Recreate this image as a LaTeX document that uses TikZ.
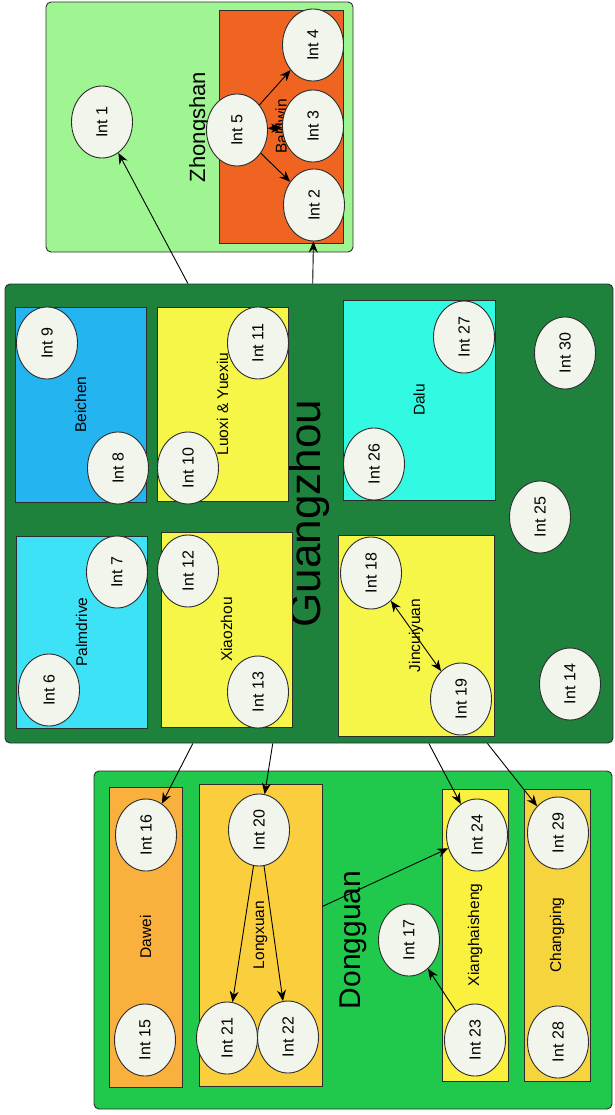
\documentclass[tikz,border=0pt]{standalone}
\usepackage{fontspec}
\setmainfont{Liberation Sans}
\usetikzlibrary{arrows.meta, positioning, shapes.geometric}
\definecolor{zhongshanbg}{RGB}{158,245,145}
\definecolor{baldwinbg}{RGB}{238,100,32}
\definecolor{guangzhoubg}{RGB}{30,130,60}
\definecolor{dongguanbg}{RGB}{32,200,76}
\definecolor{beichenbg}{RGB}{36,180,240}
\definecolor{palmbg}{RGB}{62,226,246}
\definecolor{dalubg}{RGB}{50,250,226}
\definecolor{yellowbg}{RGB}{246,246,72}
\definecolor{daweibg}{RGB}{250,176,60}
\definecolor{longxuanbg}{RGB}{250,206,60}
\definecolor{xiangbg}{RGB}{250,240,62}
\definecolor{changbg}{RGB}{246,212,62}
\definecolor{intbg}{RGB}{241,245,236}
\definecolor{edgegray}{RGB}{45,45,45}
\newcommand{\fsz}[1]{\fontsize{#1}{#1}\selectfont}
\tikzset{
    region/.style={rectangle, rounded corners=5pt, draw=edgegray, line width=0.9pt,
        rotate=90, inner sep=0pt},
    district/.style={rectangle, draw=edgegray, line width=0.9pt, rotate=90,
        inner sep=0pt, font=\fsz{15.5}},
    inter/.style={ellipse, draw=edgegray, line width=0.9pt, fill=intbg, rotate=90,
        minimum width=72pt, minimum height=61pt, inner sep=0pt, font=\fsz{16}},
    link/.style={-{Stealth[length=11pt, width=9pt]}, line width=0.9pt, black},
    duallink/.style={{Stealth[length=11pt, width=9pt]}-{Stealth[length=11pt, width=9pt]},
        line width=0.9pt, black},
}

\begin{document}
\begin{tikzpicture}[x=1pt, y=-1pt]
    \useasboundingbox (0,0) rectangle (614,1115);

    % ---- Regions ----
    \node[region, fill=zhongshanbg, minimum width=250pt, minimum height=307pt, font=\fsz{22}] (zhongshan) at (199.5,127) {Zhongshan};
    \node[region, fill=guangzhoubg, minimum width=459pt, minimum height=608pt, font=\fsz{44}] (guangzhou) at (309,513.5) {Guangzhou};
    \node[region, fill=dongguanbg, minimum width=338pt, minimum height=518pt, font=\fsz{30}] (dongguan) at (353,940) {Dongguan};

    % ---- Zhongshan districts ----
    \node[district, fill=baldwinbg, minimum width=233pt, minimum height=124pt] (baldwin) at (281,126.5) {Baldwin};

    % ---- Guangzhou districts ----
    \node[district, fill=beichenbg, minimum width=195pt, minimum height=131pt] (beichen) at (80.5,404.5) {Beichen};
    \node[district, fill=yellowbg, minimum width=194pt, minimum height=131pt] (luoxi) at (222.5,404) {Luoxi \& Yuexiu};
    \node[district, fill=dalubg, minimum width=200pt, minimum height=152pt] (dalu) at (419,400) {Dalu};
    \node[district, fill=palmbg, minimum width=192pt, minimum height=131pt] (palmdrive) at (81.5,632) {Palmdrive};
    \node[district, fill=yellowbg, minimum width=195pt, minimum height=131pt] (xiaozhou) at (226.5,629.5) {Xiaozhou};
    \node[district, fill=yellowbg, minimum width=201pt, minimum height=156pt] (jincuiyuan) at (416,635.5) {Jincuiyuan};

    % ---- Dongguan districts ----
    \node[district, fill=daweibg, minimum width=300pt, minimum height=73pt] (dawei) at (145.5,937) {Dawei};
    \node[district, fill=longxuanbg, minimum width=302pt, minimum height=123pt] (longxuan) at (260.5,935) {Longxuan};
    \node[district, fill=xiangbg, minimum width=292pt, minimum height=66pt] (xianghaisheng) at (475,935) {Xianghaisheng};
    \node[district, fill=changbg, minimum width=292pt, minimum height=66pt] (changping) at (557,935) {Changping};

    % ---- Intersections: Zhongshan ----
    \node[inter] (int1) at (102,122) {Int 1};
    \node[inter] (int2) at (314,205) {Int 2};
    \node[inter] (int3) at (313,126) {Int 3};
    \node[inter] (int4) at (313,45) {Int 4};
    \node[inter] (int5) at (237,130) {Int 5};

    % ---- Intersections: Guangzhou ----
    \node[inter] (int9) at (47,343) {Int 9};
    \node[inter] (int8) at (118,468) {Int 8};
    \node[inter] (int10) at (188,468) {Int 10};
    \node[inter] (int11) at (258,343) {Int 11};
    \node[inter] (int7) at (117,572) {Int 7};
    \node[inter] (int6) at (49,690) {Int 6};
    \node[inter] (int12) at (188,571) {Int 12};
    \node[inter] (int13) at (258,692) {Int 13};
    \node[inter] (int18) at (371,573) {Int 18};
    \node[inter] (int19) at (461,699) {Int 19};
    \node[inter] (int26) at (374,464) {Int 26};
    \node[inter] (int27) at (464,337) {Int 27};
    \node[inter] (int30) at (565,353) {Int 30};
    \node[inter] (int25) at (540,517) {Int 25};
    \node[inter] (int14) at (570,684) {Int 14};

    % ---- Intersections: Dongguan ----
    \node[inter] (int16) at (146,835) {Int 16};
    \node[inter] (int15) at (145,1040) {Int 15};
    \node[inter] (int20) at (259,830) {Int 20};
    \node[inter] (int21) at (227,1038) {Int 21};
    \node[inter] (int22) at (288,1037) {Int 22};
    \node[inter] (int17) at (409,940) {Int 17};
    \node[inter] (int24) at (477,835) {Int 24};
    \node[inter] (int23) at (475,1040) {Int 23};
    \node[inter] (int29) at (558,833) {Int 29};
    \node[inter] (int28) at (558,1042) {Int 28};

    % ---- Links ----
    \draw[link] (guangzhou) -- (int1);
    \draw[link] (guangzhou) -- (int2);
    \draw[link] (int5) -- (int4);
    \draw[link] (int5) -- (int2);
    \draw[duallink] (int5) -- (int3);
    \draw[duallink] (int18) -- (int19);

    \draw[link] (guangzhou) -- (int16);
    \draw[link] (guangzhou) -- (int20);
    \draw[link] (guangzhou) -- (int24);
    \draw[link] (guangzhou) -- (int29);

    \draw[link] (int20) -- (int21);
    \draw[link] (int20) -- (int22);
    \draw[link] (longxuan) -- (int24);
    \draw[link] (int23) -- (int17);

\end{tikzpicture}
\end{document}
